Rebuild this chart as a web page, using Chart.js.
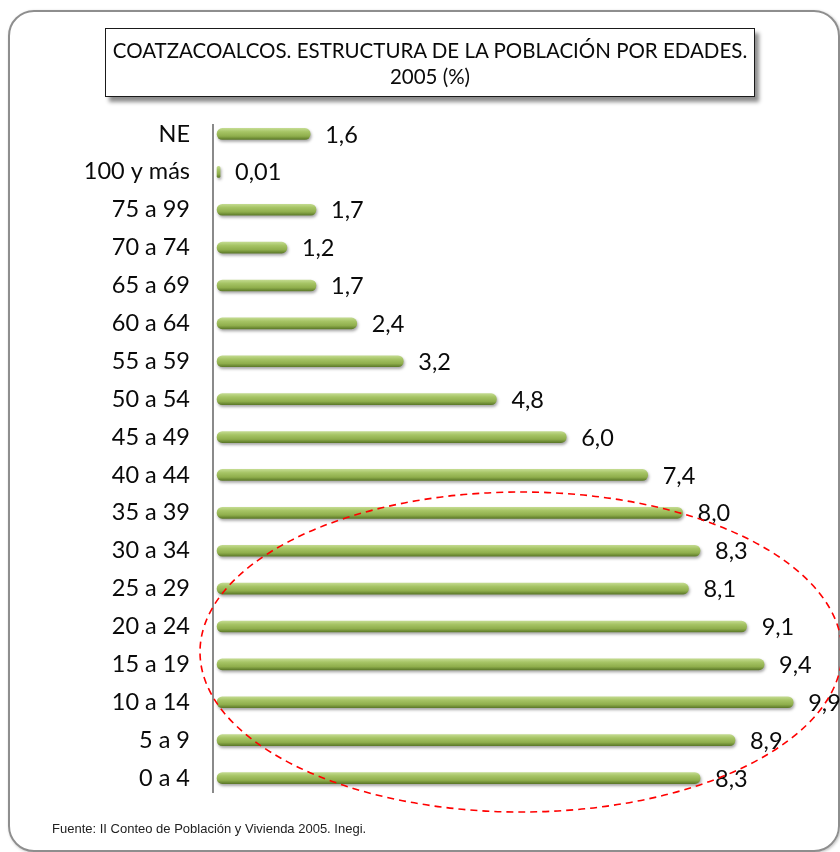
<!DOCTYPE html>
<html>
<head>
<meta charset="utf-8">
<script src="https://cdn.jsdelivr.net/npm/chart.js@4/dist/chart.umd.min.js"></script>
<style>
  html, body { margin: 0; padding: 0; background: #ffffff; }
  #wrap { position: relative; width: 840px; height: 852px; overflow: hidden; background: #fff; }
  #frame { position: absolute; left: 8px; top: 10px; width: 832px; height: 842px; box-sizing: border-box;
           border: 2px solid #8e8e8e; border-radius: 26px; box-shadow: 1px 1px 3px rgba(0,0,0,0.25); }
  #title { position: absolute; left: 105px; top: 28px; width: 650px; height: 69px; box-sizing: border-box;
           border: 1.5px solid #1a1a1a; background: #fff; box-shadow: 4px 5px 4px rgba(0,0,0,0.45);
           font-family: Lato, "Open Sans", sans-serif; font-size: 20.5px; color: #0a0a0a; text-align: center;
           line-height: 26px; padding-top: 8px; z-index: 3; }
  #foot { position: absolute; left: 52px; top: 821px; font-family: "Liberation Sans", Arial, sans-serif;
          font-size: 13px; color: #222; z-index: 3; }
  canvas { position: absolute; left: 0; top: 0; z-index: 2; }
</style>
</head>
<body>
<div id="wrap">
  <div id="frame"></div>
  <div id="title">COATZACOALCOS. ESTRUCTURA DE LA POBLACIÓN POR EDADES.<br>2005 (%)</div>
  <canvas id="c" width="840" height="852"></canvas>
  <div id="foot">Fuente: II Conteo de Población y Vivienda 2005. Inegi.</div>
</div>
<script>
const categories = ["NE", "100 y más", "75 a 99", "70 a 74", "65 a 69", "60 a 64", "55 a 59", "50 a 54",
  "45 a 49", "40 a 44", "35 a 39", "30 a 34", "25 a 29", "20 a 24", "15 a 19", "10 a 14", "5 a 9", "0 a 4"];
const porcentaje = [1.6, 0.01, 1.7, 1.2, 1.7, 2.4, 3.2, 4.8, 6.0, 7.4, 8.0, 8.3, 8.1, 9.1, 9.4, 9.9, 8.9, 8.3];

function fmt(v) {
  return (v < 0.1 ? v.toFixed(2) : v.toFixed(1)).replace('.', ',');
}

const FONT = 'Lato, "Open Sans", sans-serif';

const barGradient = (ctx) => {
  const chart = ctx.chart;
  const ys = chart.scales && chart.scales.y;
  if (!ys || ctx.dataIndex === undefined || !chart.chartArea) return '#9bbb59';
  const yc = ys.getPixelForValue(ctx.dataIndex);
  const g = chart.ctx.createLinearGradient(0, yc - 5.5, 0, yc + 5.5);
  g.addColorStop(0, '#c2da8e');
  g.addColorStop(0.3, '#a6c465');
  g.addColorStop(0.7, '#8fae4c');
  g.addColorStop(1, '#5e7b2a');
  return g;
};

const shadowPlugin = {
  id: 'barShadow',
  beforeDatasetDraw(chart) {
    const c = chart.ctx;
    c.save();
    c.shadowColor = 'rgba(0,0,0,0.35)';
    c.shadowBlur = 3;
    c.shadowOffsetX = 1;
    c.shadowOffsetY = 2;
  },
  afterDatasetDraw(chart) {
    chart.ctx.restore();
  }
};

const axisLinePlugin = {
  id: 'axisLine',
  beforeDatasetsDraw(chart) {
    const c = chart.ctx;
    const a = chart.chartArea;
    c.save();
    c.strokeStyle = '#8a8a8a';
    c.lineWidth = 2;
    c.beginPath();
    c.moveTo(a.left, a.top + 9);
    c.lineTo(a.left, a.bottom - 4);
    c.stroke();
    c.restore();
  }
};

const labelPlugin = {
  id: 'valueLabels',
  afterDatasetsDraw(chart) {
    const c = chart.ctx;
    const meta = chart.getDatasetMeta(0);
    const data = chart.data.datasets[0].data;
    c.save();
    c.font = '23.5px ' + FONT;
    c.fillStyle = '#0a0a0a';
    c.textAlign = 'left';
    c.textBaseline = 'middle';
    meta.data.forEach((bar, i) => {
      c.fillText(fmt(data[i]), bar.x + 15, bar.y + 1);
    });
    c.restore();
  }
};

const ellipsePlugin = {
  id: 'ellipse',
  afterDraw(chart) {
    const c = chart.ctx;
    c.save();
    c.strokeStyle = '#ff0000';
    c.lineWidth = 1.6;
    c.setLineDash([7, 5]);
    c.beginPath();
    c.ellipse(521, 652, 321, 160, 0, 0, Math.PI * 2);
    c.stroke();
    c.restore();
  }
};

new Chart(document.getElementById('c'), {
  type: 'bar',
  data: {
    labels: categories,
    datasets: [{
      data: porcentaje,
      backgroundColor: barGradient,
      borderWidth: 0,
      borderRadius: 6,
      borderSkipped: false,
      barThickness: 11,
      minBarLength: 3
    }]
  },
  options: {
    indexAxis: 'y',
    responsive: false,
    animation: false,
    layout: { padding: { top: 115, bottom: 55, left: 0, right: 41 } },
    plugins: { legend: { display: false }, tooltip: { enabled: false }, title: { display: false } },
    scales: {
      x: { display: false, min: -0.07, max: 10 },
      y: {
        afterFit(scale) { scale.width = 213; },
        grid: { display: false, drawTicks: false },
        border: { display: false },
        ticks: { padding: 23, color: '#0a0a0a', font: { family: FONT, size: 23.5 } }
      }
    }
  },
  plugins: [axisLinePlugin, shadowPlugin, labelPlugin, ellipsePlugin]
});
</script>
</body>
</html>
